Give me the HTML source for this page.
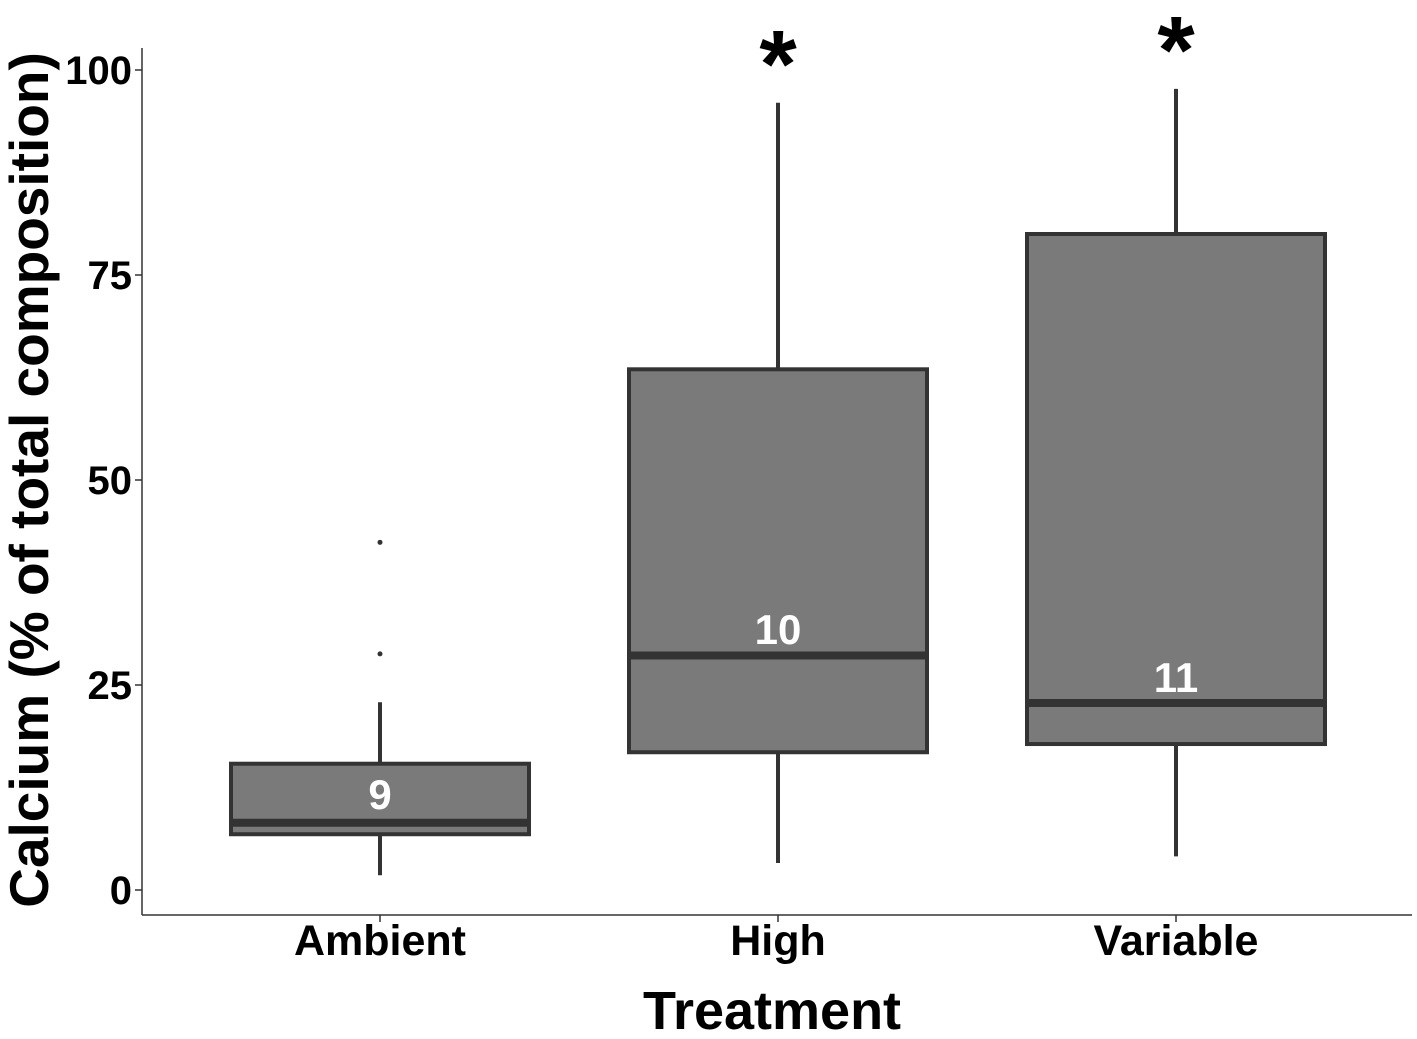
<!DOCTYPE html>
<html><head><meta charset="utf-8"><style>
body{margin:0;background:#fff;}
svg{display:block;font-family:"Liberation Sans",Arial,sans-serif;font-weight:bold;}
</style></head><body>
<svg id="chart" width="1417" height="1039" viewBox="0 0 1417 1039">
<g id="axes"></g><g id="boxes"></g>
<text x="772" y="1029" font-size="54" text-anchor="middle" fill="#000">Treatment</text>
<text transform="translate(48,480) rotate(-90)" font-size="55" text-anchor="middle" fill="#000">Calcium (% of total composition)</text>
</svg>
<script>
const categories=["Ambient","High","Variable"];
const q1=[6.8,16.8,17.8];
const q3=[15.4,63.5,80];
const medians=[8.2,28.6,22.8];
const whiskLow=[1.8,3.3,4.1];
const whiskHigh=[22.9,96,97.7];
const outliers=[[28.8,42.4],[],[]];
const nLabels=["9","10","11"];
const nLabelY=[11.7,31.8,26];
const signif=["","*","*"];
const yTicks=[0,25,50,75,100];
const NS="http://www.w3.org/2000/svg";
const y=v=>890-v*8.2;
const xc=i=>380+i*398;
const halfW=149;
function mk(tag,attrs,parent){const e=document.createElementNS(NS,tag);for(const k in attrs)e.setAttribute(k,attrs[k]);parent.appendChild(e);return e;}
const ax=document.getElementById('axes'),bx=document.getElementById('boxes');
let l=mk('line',{x1:142,y1:48,x2:142,y2:915,stroke:'#333','stroke-width':1.5},ax);


l=mk('line',{x1:142,y1:915,x2:1412,y2:915,stroke:'#333','stroke-width':1.5},ax);


yTicks.forEach(t=>{
 const tk=mk('line',{x1:135,x2:142,y1:y(t),y2:y(t),stroke:'#333','stroke-width':1.5},ax);
 
 
 const tx=mk('text',{x:132,y:y(t)+14,'font-size':40,'text-anchor':'end',fill:'#000'},ax);
 tx.textContent=t;
 
 
});
categories.forEach((c,i)=>{
 const x=xc(i);
 const tk=mk('line',{x1:x,x2:x,y1:915,y2:922,stroke:'#333','stroke-width':1.5},ax);
 
 
 const tx=mk('text',{x:x,y:955,'font-size':43,'text-anchor':'middle',fill:'#000'},ax);
 tx.textContent=c;
 
 
 const g=mk('g',{},bx);
 
 
 mk('line',{x1:x,x2:x,y1:y(whiskLow[i]),y2:y(q1[i]),stroke:'#333','stroke-width':4},g);
 mk('line',{x1:x,x2:x,y1:y(q3[i]),y2:y(whiskHigh[i]),stroke:'#333','stroke-width':4},g);
 mk('rect',{x:x-halfW,y:y(q3[i]),width:2*halfW,height:y(q1[i])-y(q3[i]),fill:'#7a7a7a',stroke:'#333','stroke-width':4},g);
 mk('line',{x1:x-halfW,x2:x+halfW,y1:y(medians[i]),y2:y(medians[i]),stroke:'#333','stroke-width':8},g);
 outliers[i].forEach(o=>{const p=mk('circle',{cx:x,cy:y(o),r:2.5,fill:'#333'},g);
  
  });
 const n=mk('text',{x:x,y:y(nLabelY[i])+15,'font-size':42,'text-anchor':'middle',fill:'#fff'},g);
 n.textContent=nLabels[i];
 
 
 if(signif[i]){const s=mk('text',{x:x,y:y(whiskHigh[i])-6,'font-size':96,'text-anchor':'middle',fill:'#000'},g);
  s.textContent=signif[i];
  
  }
});
</script>
</body></html>
